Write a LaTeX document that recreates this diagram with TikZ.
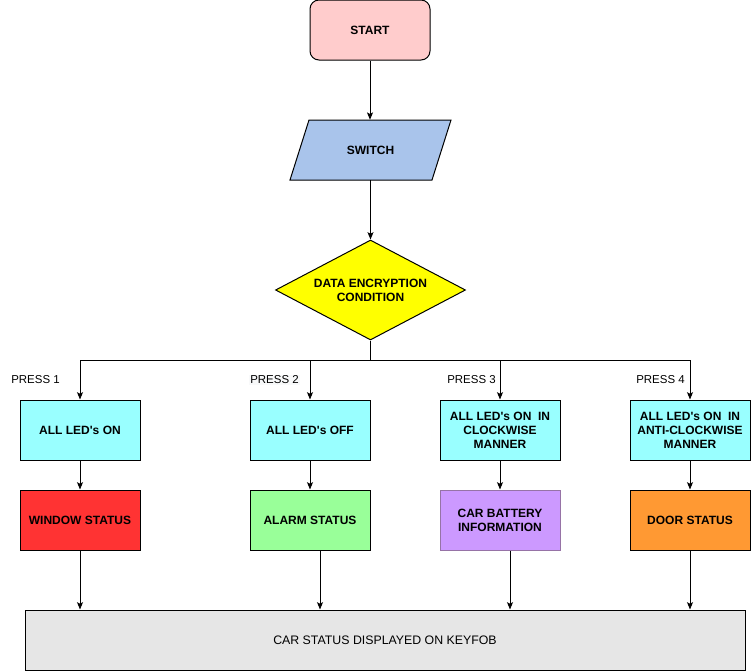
\documentclass[tikz,border=0pt]{standalone}
\usepackage{fontspec}
\setmainfont{Liberation Sans}
\usetikzlibrary{shapes.geometric,arrows.meta}
\definecolor{startfill}{HTML}{FFCCCC}
\definecolor{switchfill}{HTML}{A9C4EB}
\definecolor{decfill}{HTML}{FFFF00}
\definecolor{ledfill}{HTML}{99FFFF}
\definecolor{redfill}{HTML}{FF3333}
\definecolor{greenfill}{HTML}{99FF99}
\definecolor{purplefill}{HTML}{CC99FF}
\definecolor{purpleline}{HTML}{9673A6}
\definecolor{orangefill}{HTML}{FF9933}
\definecolor{greyfill}{HTML}{E6E6E6}
\definecolor{labelbg}{HTML}{F8F9FA}
\newcommand{\sq}{\textquotesingle}
\begin{document}
\begin{tikzpicture}[x=0.75pt,y=-0.75pt,
  base/.style={draw=black, line width=0.75pt, inner sep=0pt, align=center,
    font=\fontsize{9}{10.5}\selectfont\bfseries},
  procbox/.style={base, rectangle, minimum width=90pt, minimum height=45pt},
  startbox/.style={base, rectangle, rounded corners=6.75pt, fill=startfill,
    minimum width=90pt, minimum height=45pt},
  decbox/.style={base, diamond, aspect=1.9, fill=decfill, minimum width=142.5pt, minimum height=75pt},
  keyfobbox/.style={base, rectangle, fill=greyfill, minimum width=540pt, minimum height=45pt,
    font=\fontsize{9.25}{11}\selectfont},
  presslabel/.style={anchor=east, inner sep=0.75pt,
    font=\fontsize{8.6}{10}\selectfont},
  arrow/.style={-{Stealth[length=5.5pt,width=4.5pt,inset=1.2pt]}, line width=0.75pt},
  plainline/.style={line width=0.75pt}]
\useasboundingbox (0,0) rectangle (751,671);

% start
\node[startbox] (start) at (370,30) {START};

% switch (parallelogram)
\fill[switchfill] (290,180) -- (309,120) -- (451,120) -- (432,180) -- cycle;
\draw[line width=0.75pt, line join=miter] (290,180) -- (309,120) -- (451,120) -- (432,180) -- cycle;
\node[inner sep=0pt, minimum width=106.5pt, minimum height=45pt,
  font=\fontsize{9}{10.5}\selectfont\bfseries] (switch) at (370.5,150) {SWITCH};

% decision
\node[decbox] (dec) at (370.5,290) {DATA ENCRYPTION\\CONDITION};

% row 1
\node[procbox, fill=ledfill] (led1) at (80,430) {ALL LED\sq s ON};
\node[procbox, fill=ledfill] (led2) at (310,430) {ALL LED\sq s OFF};
\node[procbox, fill=ledfill] (led3) at (500,430) {ALL LED\sq s ON\ \ IN\\CLOCKWISE\\MANNER};
\node[procbox, fill=ledfill] (led4) at (690,430) {ALL LED\sq s ON\ \ IN\\ANTI-CLOCKWISE\\MANNER};

% row 2
\node[procbox, fill=redfill] (st1) at (80,520) {WINDOW STATUS};
\node[procbox, fill=greenfill] (st2) at (310,520) {ALARM STATUS};
\node[procbox, fill=purplefill, draw=purpleline] (st3) at (500,520) {CAR BATTERY\\INFORMATION};
\node[procbox, fill=orangefill] (st4) at (690,520) {DOOR STATUS};

% bottom
\node[keyfobbox] (keyfob) at (385,640) {CAR STATUS DISPLAYED ON KEYFOB};

% labels
\node[presslabel] (p1) at (61,380) {PRESS 1};
\node[presslabel, fill=labelbg] (p2) at (300,380) {PRESS 2};
\node[presslabel] (p3) at (497,380) {PRESS 3};
\node[presslabel] (p4) at (686,380) {PRESS 4};

% connectors
\coordinate (bus) at (370.5,360);
\draw[arrow] (start.south) -- (start.south |- switch.north);
\draw[arrow] (switch.south) -- (dec.north);
\draw[plainline] (dec.south) -- (bus);
\draw[arrow] (bus) -| (led1.north);
\draw[arrow] (bus) -| (led2.north);
\draw[arrow] (bus) -| (led3.north);
\draw[arrow] (bus) -| (led4.north);

\draw[arrow] (led1.south) -- (st1.north);
\draw[arrow] (led2.south) -- (st2.north);
\draw[arrow] (led3.south) -- (st3.north);
\draw[arrow] (led4.south) -- (st4.north);

\draw[arrow] (st1.south) -- (st1.south |- keyfob.north);
\draw[arrow] ([xshift=7.5pt]st2.south) -- ([xshift=7.5pt]st2.south |- keyfob.north);
\draw[arrow] ([xshift=7.5pt]st3.south) -- ([xshift=7.5pt]st3.south |- keyfob.north);
\draw[arrow] (st4.south) -- (st4.south |- keyfob.north);
\end{tikzpicture}
\end{document}
